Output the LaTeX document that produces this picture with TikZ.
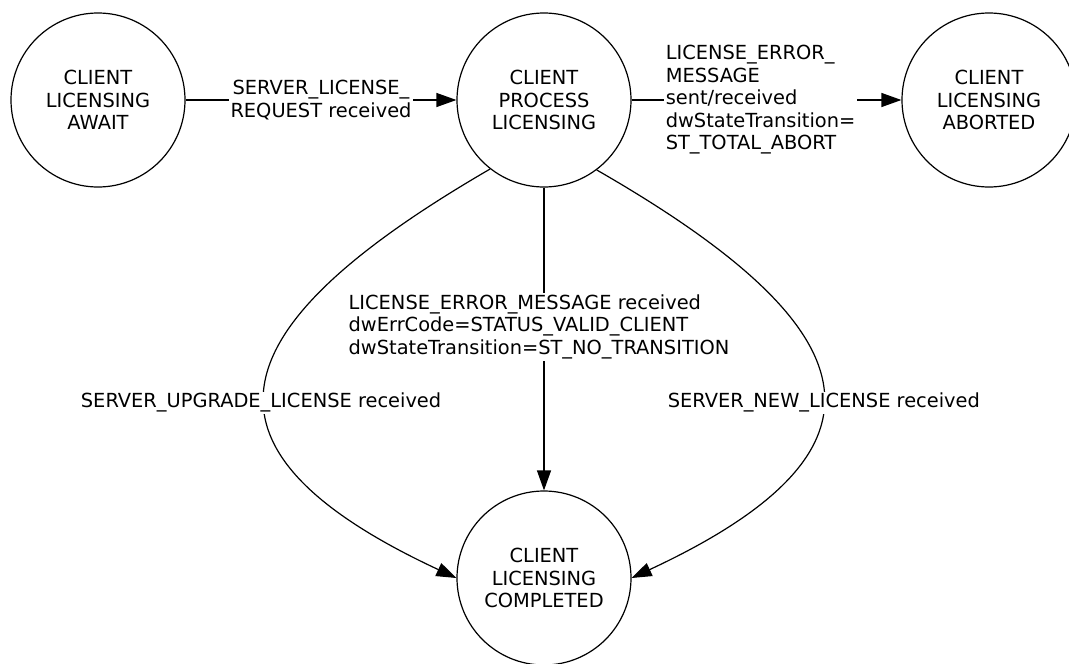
\documentclass[tikz,border=0pt]{standalone}
\usepackage{fontspec}
\setmainfont{DejaVu Sans}
\usetikzlibrary{arrows.meta}
\newcommand\diagfont{\fontsize{19.4}{22.5}\selectfont}
\begin{document}
\begin{tikzpicture}[x=1pt,y=-1pt,
  state/.style={circle,draw,line width=1.2pt,minimum size=174pt,inner sep=0pt,align=center,font=\diagfont},
  conn/.style={line width=1.2pt,-{Triangle[length=20pt,width=14pt]}},
  lab/.style={fill=white,inner sep=1.5pt,font=\diagfont}]
\useasboundingbox[fill=white] (0,0) rectangle (1069,664);

\node[state] (await) at (98,100) {CLIENT\\LICENSING\\AWAIT};
\node[state] (proc) at (544,100) {CLIENT\\PROCESS\\LICENSING};
\node[state] (abort) at (989,100) {CLIENT\\LICENSING\\ABORTED};
\node[state] (comp) at (544,578) {CLIENT\\LICENSING\\COMPLETED};

\draw[conn] (await) -- node[lab,align=center] {SERVER\_LICENSE\_\\REQUEST received} (proc);

\draw[conn] (proc) -- node[lab,align=left,pos=0.478]
  {LICENSE\_ERROR\_\\MESSAGE\\sent/received\\dwStateTransition=\\ST\_TOTAL\_ABORT} (abort);

\draw[conn] (proc) -- node[lab,align=left,pos=0.46,xshift=-5pt]
  {LICENSE\_ERROR\_MESSAGE received\\dwErrCode=STATUS\_VALID\_CLIENT\\dwStateTransition=ST\_NO\_TRANSITION} (comp);

\draw[conn] (proc.232.4) .. controls (221.5,325) and (175,447) ..
  node[lab,pos=0.55,xshift=-5pt] {SERVER\_UPGRADE\_LICENSE received} (comp.180);

\draw[conn] (proc.307.6) .. controls (866.5,325) and (913,447) ..
  node[lab,pos=0.55,xshift=2pt] {SERVER\_NEW\_LICENSE received} (comp.0);
\end{tikzpicture}
\end{document}
